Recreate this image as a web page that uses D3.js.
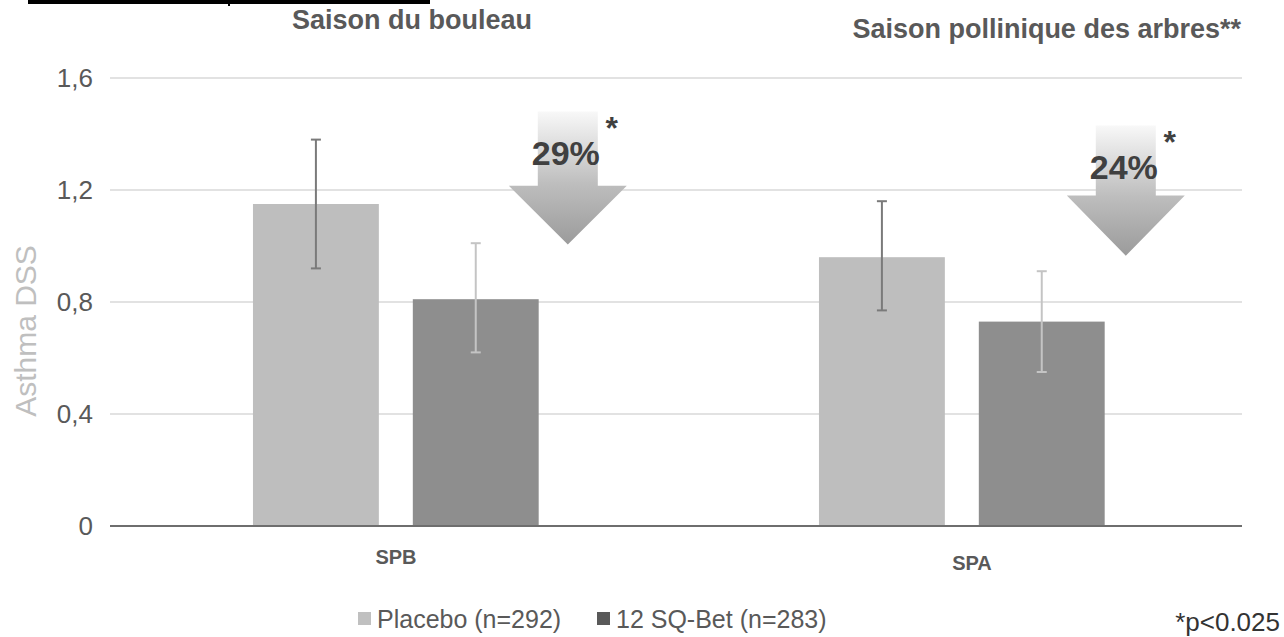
<!DOCTYPE html>
<html>
<head>
<meta charset="utf-8">
<script src="https://cdn.jsdelivr.net/npm/d3@7"></script>
<style>
  html, body { margin: 0; padding: 0; background: #fff; }
  svg { display: block; font-family: Arial, "Liberation Sans", sans-serif; }
</style>
</head>
<body>
<svg id="chart" width="1284" height="637"></svg>
<script>
// ---- data ----
const categories = ["SPB", "SPA"];
const seriesNames = ["Placebo (n=292)", "12 SQ-Bet (n=283)"];
const placeboValues = [1.15, 0.96];
const sqBetValues = [0.81, 0.73];
const placeboErrLow = [0.92, 0.77];
const placeboErrHigh = [1.38, 1.16];
const sqBetErrLow = [0.62, 0.55];
const sqBetErrHigh = [1.01, 0.91];
const yTicks = [0, 0.4, 0.8, 1.2, 1.6];
const yTickLabels = ["0", "0,4", "0,8", "1,2", "1,6"];
const reductions = ["29%", "24%"];
// arrow extents in data units: [shaftTop, headTop, tip]
const arrowLevels = [[1.48, 1.215, 1.005], [1.43, 1.18, 0.965]];
const seasonTitles = ["Saison du bouleau", "Saison pollinique des arbres**"];
const footnote = "*p<0.025";

// ---- layout ----
const svg = d3.select("#chart");
const plotLeft = 110, plotRight = 1242, plotTop = 78, plotBottom = 526;

const x = d3.scaleBand().domain(categories).range([plotLeft, plotRight]).padding(0);
const xInner = d3.scaleBand().domain([0, 1])
  .range([x.bandwidth() * 0.2526, x.bandwidth() * 0.7574])
  .paddingInner(0.2125).paddingOuter(0);
const y = d3.scaleLinear().domain([0, 1.6]).range([plotBottom, plotTop]);

// top-left black rule (cropped heading underline)
svg.append("rect").attr("x", 28).attr("y", 0).attr("width", 402).attr("height", 4).attr("fill", "#000");
svg.append("rect").attr("x", 228).attr("y", 0).attr("width", 2).attr("height", 6).attr("fill", "#000");

// gridlines
svg.append("g").selectAll("line").data(yTicks.filter(d => d > 0)).join("line")
  .attr("x1", plotLeft).attr("x2", plotRight)
  .attr("y1", d => y(d)).attr("y2", d => y(d))
  .attr("stroke", "#d9d9d9").attr("stroke-width", 1.3);

// y tick labels
svg.append("g").selectAll("text").data(yTicks).join("text")
  .attr("x", 93).attr("y", d => y(d)).attr("dy", "0.36em")
  .attr("text-anchor", "end").attr("font-size", 26).attr("fill", "#595959")
  .text((d, i) => yTickLabels[i]);

// y axis title
svg.append("text").attr("transform", "translate(36,331) rotate(-90)")
  .attr("text-anchor", "middle").attr("font-size", 30).attr("fill", "#bfbfbf")
  .text("Asthma DSS");

// bars
const series = [
  { name: seriesNames[0], values: placeboValues, lo: placeboErrLow, hi: placeboErrHigh, fill: "#bebebe", err: "#7a7a7a", legend: "#c0c0c0" },
  { name: seriesNames[1], values: sqBetValues, lo: sqBetErrLow, hi: sqBetErrHigh, fill: "#8e8e8e", err: "#c4c4c4", legend: "#595959" }
];

const groups = svg.append("g").selectAll("g").data(categories).join("g")
  .attr("transform", d => `translate(${x(d)},0)`);

series.forEach((s, si) => {
  groups.append("rect")
    .attr("x", xInner(si)).attr("width", xInner.bandwidth())
    .attr("y", (d, ci) => y(s.values[ci]))
    .attr("height", (d, ci) => y(0) - y(s.values[ci]))
    .attr("fill", s.fill);
});

// error bars
series.forEach((s, si) => {
  const cx = xInner(si) + xInner.bandwidth() / 2;
  groups.append("line").attr("x1", cx).attr("x2", cx)
    .attr("y1", (d, ci) => y(s.lo[ci])).attr("y2", (d, ci) => y(s.hi[ci]))
    .attr("stroke", s.err).attr("stroke-width", 2);
  ["lo", "hi"].forEach(k => {
    groups.append("line").attr("x1", cx - 5).attr("x2", cx + 5)
      .attr("y1", (d, ci) => y(s[k][ci])).attr("y2", (d, ci) => y(s[k][ci]))
      .attr("stroke", s.err).attr("stroke-width", 2);
  });
});

// baseline
svg.append("line").attr("x1", plotLeft).attr("x2", plotRight).attr("y1", y(0)).attr("y2", y(0))
  .attr("stroke", "#6e6e6e").attr("stroke-width", 2);

// category labels
svg.append("g").selectAll("text").data(categories).join("text")
  .attr("x", d => x(d) + x.bandwidth() / 2 + (d === "SPA" ? 13 : 3))
  .attr("y", d => d === "SPA" ? 570 : 564)
  .attr("text-anchor", "middle").attr("font-size", 20).attr("font-weight", "bold")
  .attr("fill", "#595959").text(d => d);

// arrows
const defs = svg.append("defs");
const grad = defs.append("linearGradient").attr("id", "arrowGrad")
  .attr("x1", 0).attr("y1", 0).attr("x2", 0).attr("y2", 1);
grad.append("stop").attr("offset", 0).attr("stop-color", "#f8f8f8");
grad.append("stop").attr("offset", 0.55).attr("stop-color", "#bdbdbd");
grad.append("stop").attr("offset", 1).attr("stop-color", "#9b9b9b");

const arrowShift = [5, -3];
categories.forEach((c, ci) => {
  const cx = x(c) + x.bandwidth() * 0.8 + arrowShift[ci];
  const [sTop, hTop, tip] = arrowLevels[ci];
  const shaftHalf = 30, headHalf = 59;
  const pts = [
    [cx - shaftHalf, y(sTop)], [cx + shaftHalf, y(sTop)], [cx + shaftHalf, y(hTop)],
    [cx + headHalf, y(hTop)], [cx, y(tip)], [cx - headHalf, y(hTop)], [cx - shaftHalf, y(hTop)]
  ];
  svg.append("path").attr("d", d3.line()(pts) + "Z").attr("fill", "url(#arrowGrad)");
  svg.append("text").attr("x", cx - 2).attr("y", y(sTop) + 53)
    .attr("text-anchor", "middle").attr("font-size", 34).attr("font-weight", "bold")
    .attr("fill", "#404040").text(reductions[ci]);
  svg.append("text").attr("x", cx + 44).attr("y", y(sTop) + 27)
    .attr("text-anchor", "middle").attr("font-size", 32).attr("font-weight", "bold")
    .attr("fill", "#404040").text("*");
});

// season titles
svg.append("text").attr("x", 412).attr("y", 29).attr("text-anchor", "middle")
  .attr("font-size", 27).attr("font-weight", "bold").attr("fill", "#595959").text(seasonTitles[0]);
svg.append("text").attr("x", 1241).attr("y", 38).attr("text-anchor", "end")
  .attr("font-size", 27).attr("font-weight", "bold").attr("fill", "#595959").text(seasonTitles[1]);

// legend
const legendX = [358, 597];
const lg = svg.append("g").selectAll("g").data(series).join("g")
  .attr("transform", (d, i) => `translate(${legendX[i]},612)`);
lg.append("rect").attr("x", 0).attr("y", 0).attr("width", 13).attr("height", 13).attr("fill", d => d.legend);
lg.append("text").attr("x", 19).attr("y", 15.5).attr("font-size", 25).attr("fill", "#595959").text(d => d.name);

// footnote
svg.append("text").attr("x", 1280).attr("y", 631).attr("text-anchor", "end")
  .attr("font-size", 26).attr("fill", "#333").text(footnote);
</script>
</body>
</html>
